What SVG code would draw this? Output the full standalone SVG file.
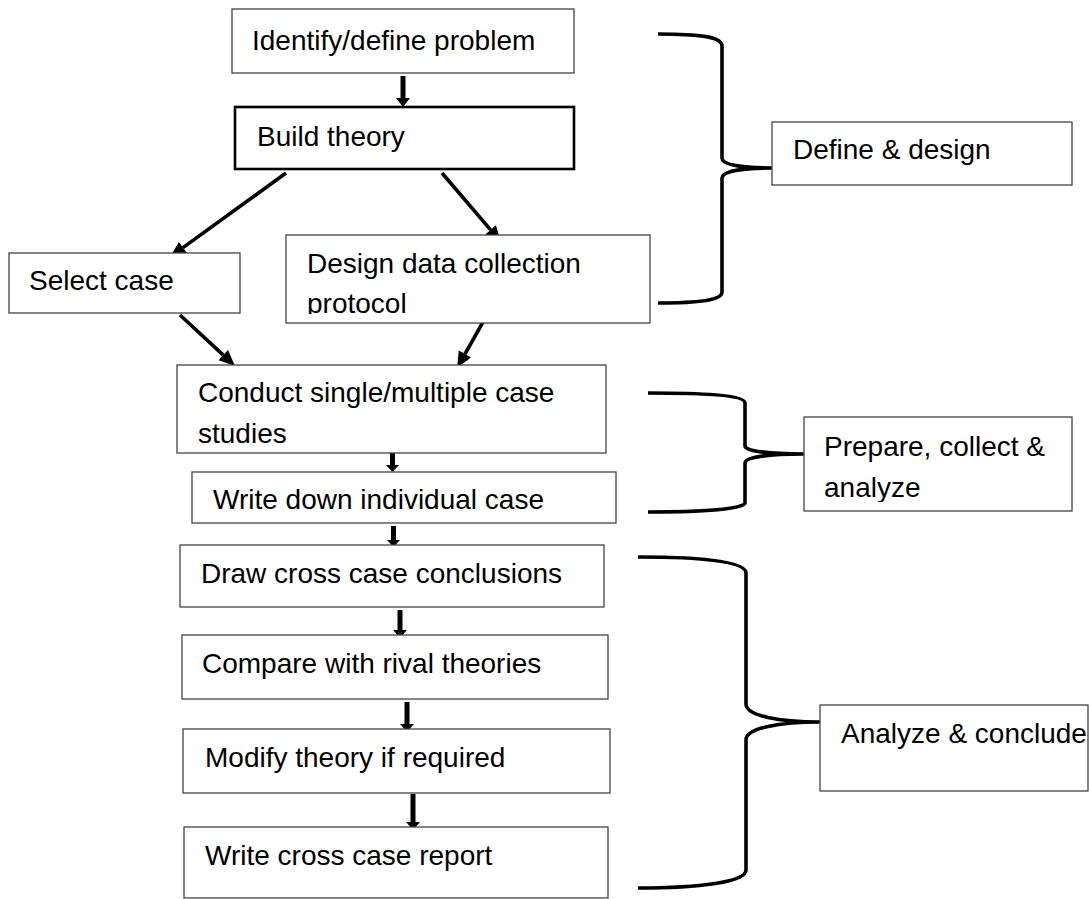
<svg xmlns="http://www.w3.org/2000/svg" width="1089" height="899" viewBox="0 0 1089 899">
<style>
.box{fill:#fff;stroke:#444;stroke-width:1.3}
.thick{fill:#fff;stroke:#000;stroke-width:2.6}
.t{font-family:"Liberation Sans",Arial,sans-serif;font-size:28px;fill:#000}
.ln{fill:none;stroke:#000;stroke-width:3.6}
.br{fill:none;stroke:#000;stroke-width:3.6;stroke-linejoin:round}
.blk{fill:#000}
</style>
<defs>
<clipPath id="c1"><rect x="286" y="235" width="364" height="79"/></clipPath>
<clipPath id="c2"><rect x="177" y="365" width="429" height="79"/></clipPath>
<clipPath id="c3"><rect x="804" y="417" width="268" height="85"/></clipPath>
</defs>
<rect x="0" y="0" width="1089" height="899" fill="#fff"/>

<g id="connectors">
<line class="ln" x1="286" y1="173" x2="183" y2="247.6"/>
<polygon class="blk" points="170,257 187.1,253.3 178.9,241.9"/>
<line class="ln" x1="442" y1="173" x2="490.6" y2="229.8"/>
<polygon class="blk" points="501,242 495.9,225.3 485.3,234.4"/>
<line class="ln" x1="180" y1="315" x2="223.3" y2="355.1"/>
<polygon class="blk" points="235,366 228,350 218.5,360.3"/>
<line class="ln" x1="483" y1="322" x2="464.9" y2="354.1"/>
<polygon class="blk" points="457,368 471,357.5 458.8,350.6"/>
<polygon class="blk" points="400.5,76 405.5,76 405.5,98 410,98 403,107 396,98 400.5,98"/>
<polygon class="blk" points="390,453 395,453 395,465 399,465 392.5,472 386,465 390,465"/>
<polygon class="blk" points="391,526 396,526 396,540 400,540 393.5,547 387,540 391,540"/>
<polygon class="blk" points="397.5,610 402.5,610 402.5,630 407,630 400,638 393,630 397.5,630"/>
<polygon class="blk" points="404.5,702 409.5,702 409.5,724 414,724 407,732 400,724 404.5,724"/>
<polygon class="blk" points="410.5,794 415.5,794 415.5,822 420,822 413,830 406,822 410.5,822"/>
</g>

<g id="brace-define">
<path class="br" d="M658,34 C700,34 722,37 722,46 L722,158 C722,165 742,168 772,168 C742,168 722,171 722,178 L722,292 C722,300 700,303 658,303"/>
</g>
<g id="brace-prepare">
<path class="br" d="M648,393 C700,393 745,395 745,403 L745,446 C745,451 770,454 803,454 C770,454 745,457 745,463 L745,503 C745,509 700,512 648,512"/>
</g>
<g id="brace-analyze">
<path class="br" d="M638,557 C700,557 746,561 746,573 L746,704 C746,716 780,722 820,722 C780,722 746,728 746,740 L746,870 C746,882 700,888 638,888"/>
</g>

<g id="node-identify">
<rect class="box" x="232" y="9" width="342" height="64"/>
<text class="t" x="252" y="50">Identify/define problem</text>
</g>
<g id="node-build">
<rect class="thick" x="235" y="107" width="339" height="62"/>
<text class="t" x="257" y="146">Build theory</text>
</g>
<g id="node-select">
<rect class="box" x="9" y="253" width="231" height="60"/>
<text class="t" x="29" y="290">Select case</text>
</g>
<g id="node-design">
<rect class="box" x="286" y="235" width="364" height="88"/>
<g clip-path="url(#c1)">
<text class="t" x="307" y="273">Design data collection</text>
<text class="t" x="307" y="313">protocol</text>
</g>
</g>
<g id="node-conduct">
<rect class="box" x="177" y="365" width="429" height="88"/>
<g clip-path="url(#c2)">
<text class="t" x="198" y="402">Conduct single/multiple case</text>
<text class="t" x="198" y="443">studies</text>
</g>
</g>
<g id="node-writedown">
<rect class="box" x="192" y="472" width="424" height="51"/>
<text class="t" x="213" y="509">Write down individual case</text>
</g>
<g id="node-draw">
<rect class="box" x="180" y="545" width="424" height="62"/>
<text class="t" x="201" y="583">Draw cross case conclusions</text>
</g>
<g id="node-compare">
<rect class="box" x="182" y="635" width="426" height="64"/>
<text class="t" x="202" y="673">Compare with rival theories</text>
</g>
<g id="node-modify">
<rect class="box" x="183" y="729" width="427" height="64"/>
<text class="t" x="205" y="767">Modify theory if required</text>
</g>
<g id="node-report">
<rect class="box" x="184" y="827" width="424" height="71"/>
<text class="t" x="205" y="865">Write cross case report</text>
</g>
<g id="node-define">
<rect class="box" x="772" y="122" width="300" height="63"/>
<text class="t" x="793" y="159">Define &amp; design</text>
</g>
<g id="node-prepare">
<rect class="box" x="804" y="417" width="268" height="94"/>
<g clip-path="url(#c3)">
<text class="t" x="824" y="456">Prepare, collect &amp;</text>
<text class="t" x="824" y="497">analyze</text>
</g>
</g>
<g id="node-analyze">
<rect class="box" x="820" y="705" width="268" height="86"/>
<text class="t" x="841" y="743">Analyze &amp; conclude</text>
</g>
</svg>
